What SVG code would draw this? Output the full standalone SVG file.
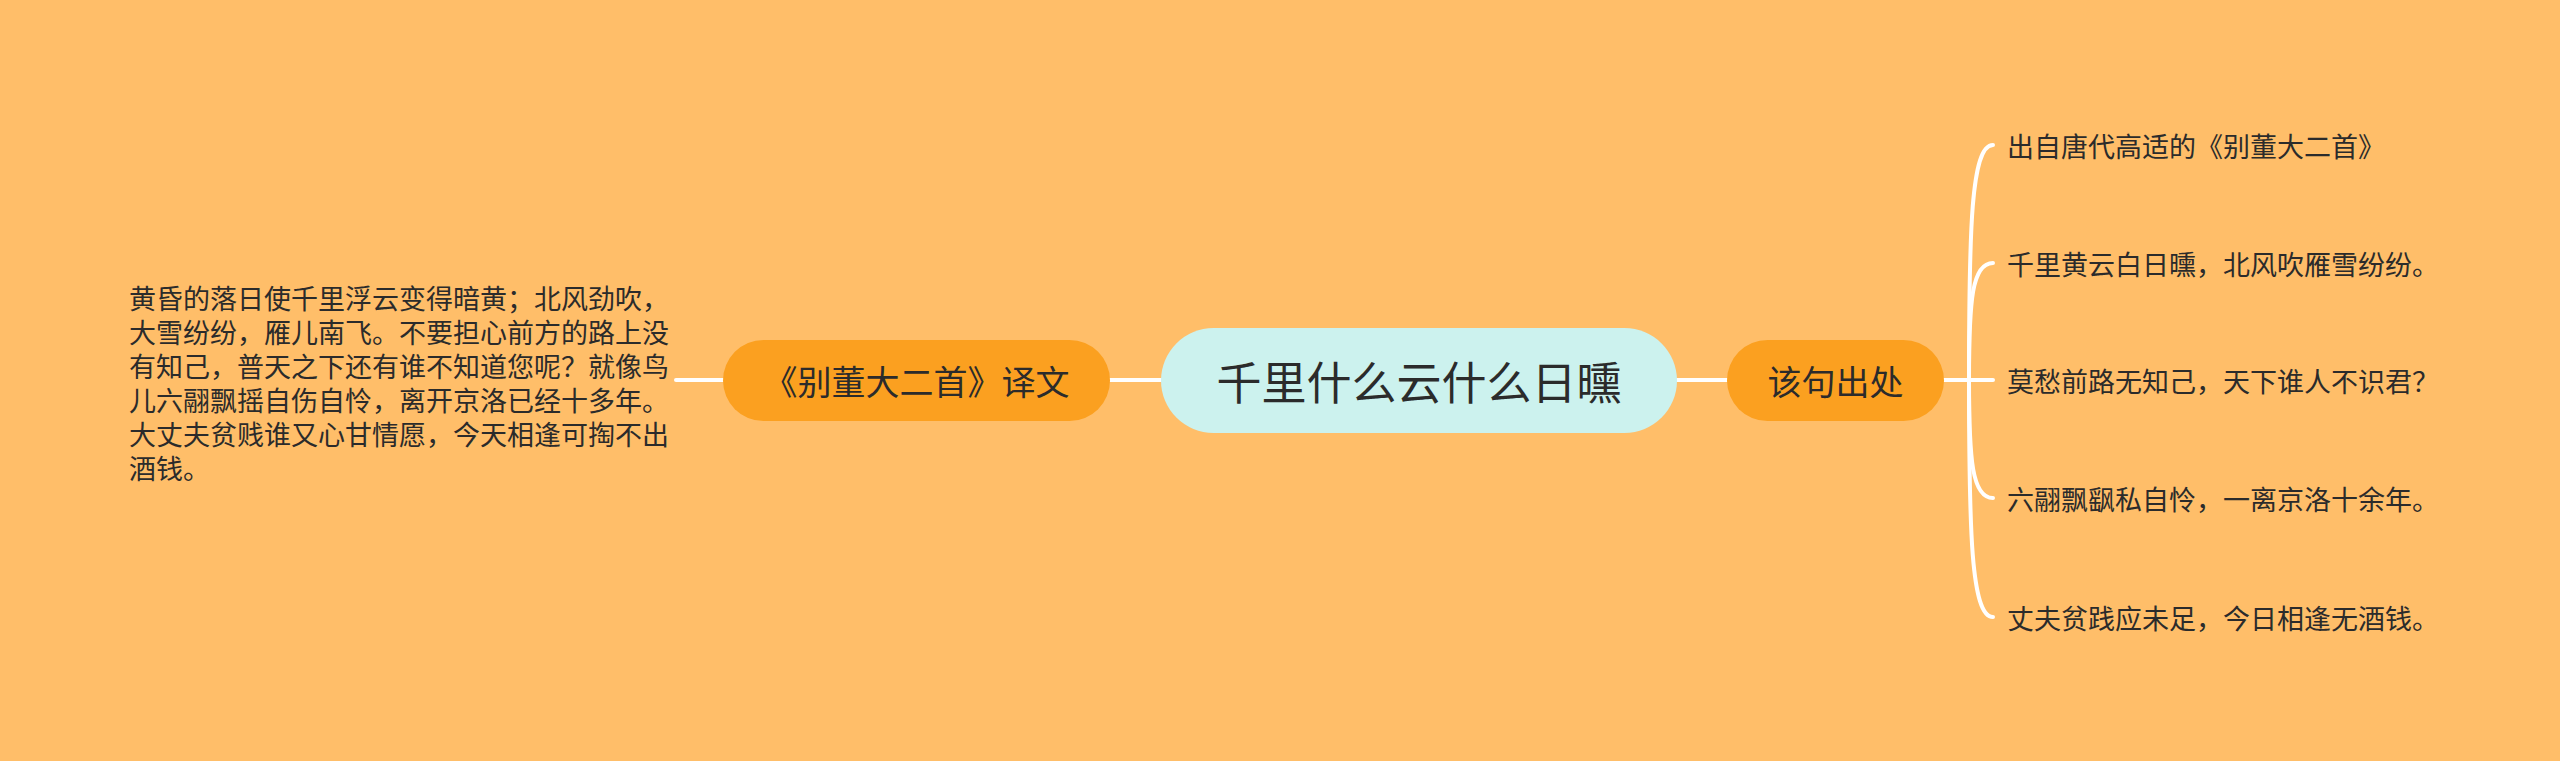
<svg xmlns="http://www.w3.org/2000/svg" width="2560" height="761" viewBox="0 0 2560 761">
<style>
.t{font-family:"Noto Sans CJK SC","Noto Sans",sans-serif;fill:#2b2b2b;dominant-baseline:central}
.s{font-size:27px}
.c{fill:none;stroke:#ffffff;stroke-width:4;stroke-linecap:round}
</style>
<rect x="0" y="0" width="2560" height="761" fill="#FFBE69"/>
<g id="connectors">
<path class="c" d="M676 380 H723"/>
<path class="c" d="M1110 380 H1161"/>
<path class="c" d="M1677 380 H1727"/>
<path class="c" d="M1944 380 H1993"/>
<path class="c" d="M1969 380 C1969 230 1971 145 1993 145"/>
<path class="c" d="M1969 380 C1969 300 1972 263 1993 263"/>
<path class="c" d="M1969 380 C1969 460 1972 498 1993 498"/>
<path class="c" d="M1969 380 C1969 530 1971 617 1993 617"/>
</g>
<g id="center">
<rect x="1161" y="328" width="516" height="105" rx="52.5" fill="#CCF2EE"/>
<text class="t" x="1419" y="380" font-size="45" text-anchor="middle">千里什么云什么日曛</text>
</g>
<g id="node-left">
<rect x="723" y="340" width="387" height="81" rx="40.5" fill="#FBA020"/>
<text class="t" x="916.5" y="380" font-size="34" text-anchor="middle">《别董大二首》译文</text>
</g>
<g id="node-right">
<rect x="1727" y="340" width="217" height="81" rx="40.5" fill="#FBA020"/>
<text class="t" x="1835.5" y="380" font-size="34" text-anchor="middle">该句出处</text>
</g>
<g id="leaf-translation">
<text class="t s" x="129" y="297">黄昏的落日使千里浮云变得暗黄；北风劲吹，</text>
<text class="t s" x="129" y="331">大雪纷纷，雁儿南飞。不要担心前方的路上没</text>
<text class="t s" x="129" y="365">有知己，普天之下还有谁不知道您呢？就像鸟</text>
<text class="t s" x="129" y="399">儿六翮飘摇自伤自怜，离开京洛已经十多年。</text>
<text class="t s" x="129" y="433">大丈夫贫贱谁又心甘情愿，今天相逢可掏不出</text>
<text class="t s" x="129" y="467">酒钱。</text>
</g>
<g id="leaf-1"><text class="t s" x="2007" y="145">出自唐代高适的《别董大二首》</text></g>
<g id="leaf-2"><text class="t s" x="2007" y="263">千里黄云白日曛，北风吹雁雪纷纷。</text></g>
<g id="leaf-3"><text class="t s" x="2007" y="380">莫愁前路无知己，天下谁人不识君？</text></g>
<g id="leaf-4"><text class="t s" x="2007" y="498">六翮飘飖私自怜，一离京洛十余年。</text></g>
<g id="leaf-5"><text class="t s" x="2007" y="617">丈夫贫践应未足，今日相逢无酒钱。</text></g>
</svg>
